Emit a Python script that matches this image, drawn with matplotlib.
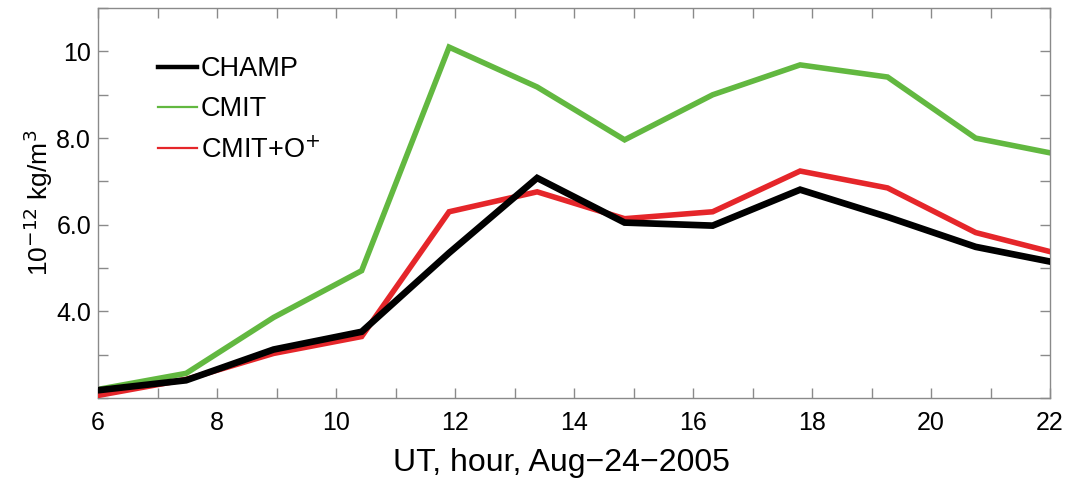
import matplotlib
matplotlib.use("Agg")
import matplotlib.pyplot as plt
from matplotlib.lines import Line2D
from matplotlib.ticker import MultipleLocator, FixedLocator, FixedFormatter

plt.rcParams["font.family"] = ["Liberation Sans", "DejaVu Sans"]

# orbit-averaged samples, UT hours on Aug 24 2005
ut_hour = [6.0, 7.48, 8.95, 10.43, 11.9, 13.38, 14.85, 16.33, 17.8, 19.27, 20.75, 22.0]
champ = [2.18, 2.41, 3.12, 3.53, 5.35, 7.08, 6.05, 5.98, 6.81, 6.18, 5.49, 5.15]
cmit = [2.2, 2.57, 3.86, 4.94, 10.10, 9.18, 7.96, 9.0, 9.69, 9.41, 8.0, 7.66]
cmit_oplus = [2.06, 2.43, 3.03, 3.42, 6.30, 6.76, 6.14, 6.30, 7.24, 6.85, 5.82, 5.38]

y_ticks = [4, 6, 8, 10]
y_tick_labels = ["4.0", "6.0", "8.0", "10"]

GREEN = "#62b840"
RED = "#e5262a"
AXIS_GRAY = "#8a8a8a"

fig = plt.figure(figsize=(10.66, 4.79), dpi=100)
ax = fig.add_axes([0.092, 0.169, 0.893, 0.814])

ax.plot(ut_hour, cmit, color=GREEN, lw=4.0, solid_joinstyle="miter", zorder=2)
ax.plot(ut_hour, cmit_oplus, color=RED, lw=4.0, solid_joinstyle="miter", zorder=3)
ax.plot(ut_hour, champ, color="black", lw=4.8, solid_joinstyle="miter", zorder=4)

ax.set_xlim(6, 22)
ax.set_ylim(2, 11)
ax.xaxis.set_major_locator(MultipleLocator(2))
ax.xaxis.set_minor_locator(MultipleLocator(1))
ax.yaxis.set_major_locator(FixedLocator(y_ticks))
ax.yaxis.set_major_formatter(FixedFormatter(y_tick_labels))
ax.yaxis.set_minor_locator(MultipleLocator(1))

for side in ax.spines.values():
    side.set_color(AXIS_GRAY)
    side.set_linewidth(1.0)
ax.tick_params(which="both", direction="in", top=True, right=True,
               color=AXIS_GRAY, width=1.0, length=7)
ax.tick_params(axis="both", labelsize=18)
ax.tick_params(axis="x", pad=9)
ax.tick_params(axis="y", pad=5)

ax.set_xlabel("UT, hour, Aug\u221224\u22122005", fontsize=23, labelpad=10)
ax.xaxis.label.set_x(0.487)
ax.set_ylabel(r"10$^{-12}$ kg/m$^{3}$", fontsize=19, labelpad=1)

handles = [
    Line2D([], [], color="black", lw=3.2),
    Line2D([], [], color=GREEN, lw=1.6),
    Line2D([], [], color=RED, lw=1.6),
]
labels = ["CHAMP", "CMIT", r"CMIT+O$^{+}$"]
ax.legend(handles, labels, loc="upper left", bbox_to_anchor=(0.063, 0.877),
          frameon=False, fontsize=19.5, handlelength=1.45, handletextpad=0.12,
          labelspacing=0.53, borderpad=0, borderaxespad=0)

fig.savefig("out.png", dpi=100)
